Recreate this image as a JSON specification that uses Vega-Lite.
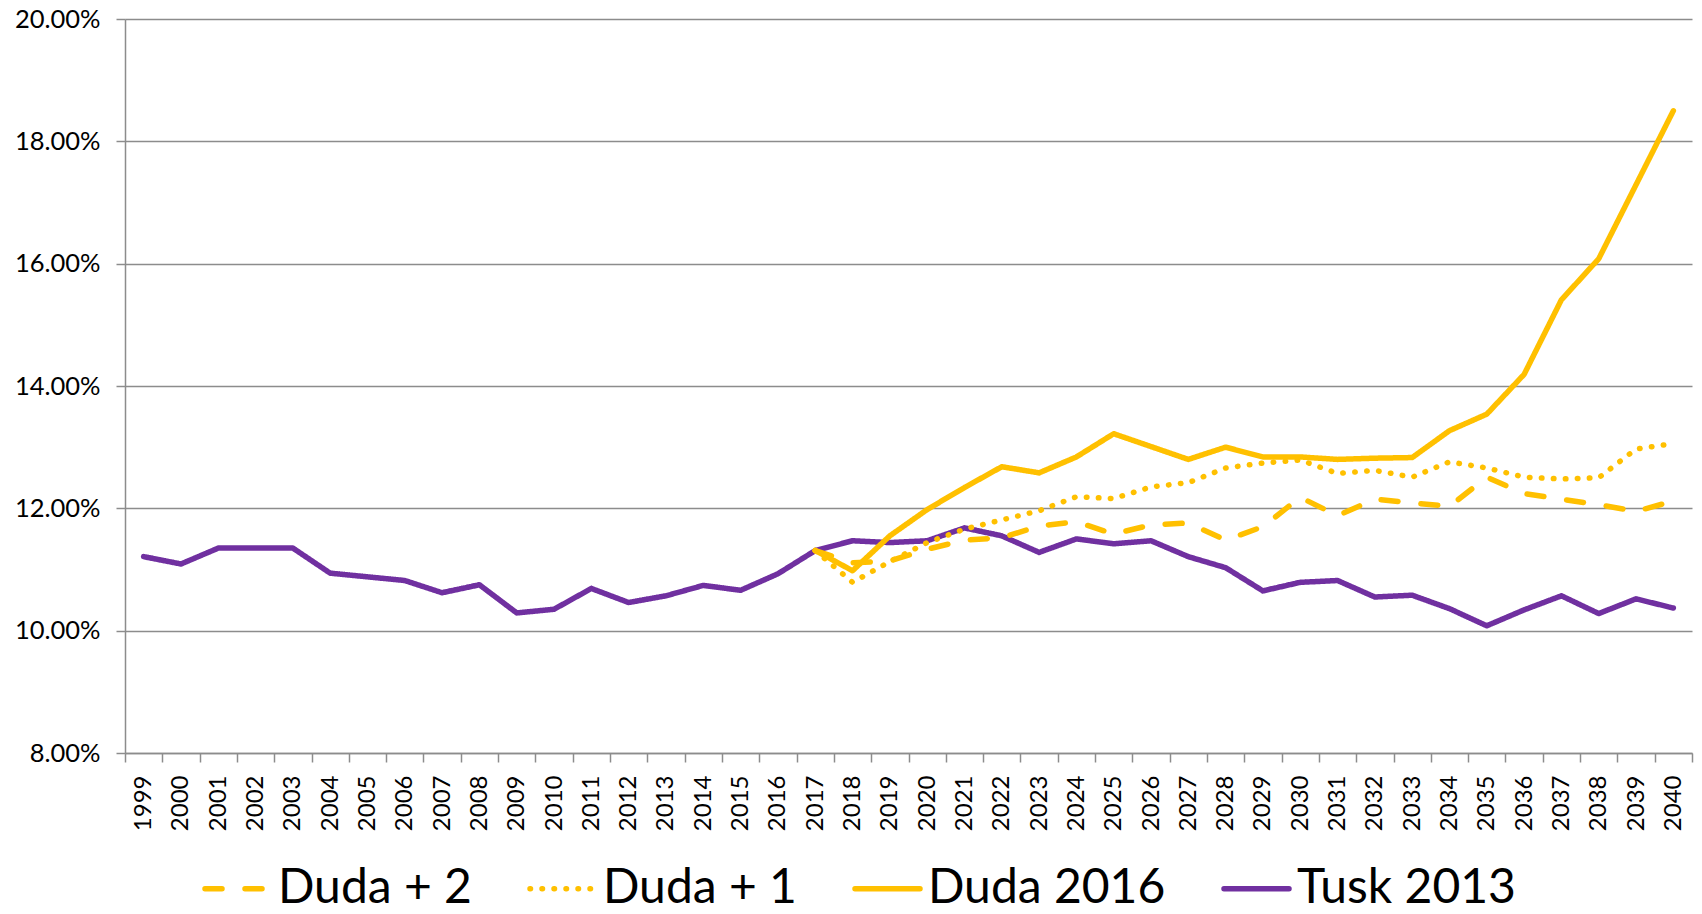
{
  "$schema": "https://vega.github.io/schema/vega-lite/v6.json",
  "autosize": "none",
  "width": 1567,
  "height": 734,
  "padding": {"left": 125, "top": 19, "right": 10, "bottom": 161},
  "background": "white",
  "config": {
    "font": "Lato",
    "view": {"stroke": null},
    "axis": {"labelFont": "Lato", "labelColor": "#000000", "domainColor": "#8c8c8c", "tickColor": "#8c8c8c", "gridColor": "#8c8c8c", "domainWidth": 1.5, "tickWidth": 1.5, "gridWidth": 1.5}
  },
  "data": {
    "values": [
      {"year": "1999", "series": "Tusk 2013", "value": 0.1121},
      {"year": "2000", "series": "Tusk 2013", "value": 0.1109},
      {"year": "2001", "series": "Tusk 2013", "value": 0.1135},
      {"year": "2002", "series": "Tusk 2013", "value": 0.1135},
      {"year": "2003", "series": "Tusk 2013", "value": 0.1135},
      {"year": "2004", "series": "Tusk 2013", "value": 0.1094},
      {"year": "2005", "series": "Tusk 2013", "value": 0.1088},
      {"year": "2006", "series": "Tusk 2013", "value": 0.1082},
      {"year": "2007", "series": "Tusk 2013", "value": 0.1062},
      {"year": "2008", "series": "Tusk 2013", "value": 0.1075},
      {"year": "2009", "series": "Tusk 2013", "value": 0.1029},
      {"year": "2010", "series": "Tusk 2013", "value": 0.1035},
      {"year": "2011", "series": "Tusk 2013", "value": 0.1069},
      {"year": "2012", "series": "Tusk 2013", "value": 0.1046},
      {"year": "2013", "series": "Tusk 2013", "value": 0.1057},
      {"year": "2014", "series": "Tusk 2013", "value": 0.1074},
      {"year": "2015", "series": "Tusk 2013", "value": 0.1066},
      {"year": "2016", "series": "Tusk 2013", "value": 0.1093},
      {"year": "2017", "series": "Tusk 2013", "value": 0.1131},
      {"year": "2018", "series": "Tusk 2013", "value": 0.1147},
      {"year": "2019", "series": "Tusk 2013", "value": 0.1144},
      {"year": "2020", "series": "Tusk 2013", "value": 0.1147},
      {"year": "2021", "series": "Tusk 2013", "value": 0.1168},
      {"year": "2022", "series": "Tusk 2013", "value": 0.1155},
      {"year": "2023", "series": "Tusk 2013", "value": 0.1128},
      {"year": "2024", "series": "Tusk 2013", "value": 0.1150},
      {"year": "2025", "series": "Tusk 2013", "value": 0.1142},
      {"year": "2026", "series": "Tusk 2013", "value": 0.1147},
      {"year": "2027", "series": "Tusk 2013", "value": 0.1121},
      {"year": "2028", "series": "Tusk 2013", "value": 0.1103},
      {"year": "2029", "series": "Tusk 2013", "value": 0.1065},
      {"year": "2030", "series": "Tusk 2013", "value": 0.1079},
      {"year": "2031", "series": "Tusk 2013", "value": 0.1082},
      {"year": "2032", "series": "Tusk 2013", "value": 0.1055},
      {"year": "2033", "series": "Tusk 2013", "value": 0.1058},
      {"year": "2034", "series": "Tusk 2013", "value": 0.1036},
      {"year": "2035", "series": "Tusk 2013", "value": 0.1008},
      {"year": "2036", "series": "Tusk 2013", "value": 0.1034},
      {"year": "2037", "series": "Tusk 2013", "value": 0.1057},
      {"year": "2038", "series": "Tusk 2013", "value": 0.1028},
      {"year": "2039", "series": "Tusk 2013", "value": 0.1052},
      {"year": "2040", "series": "Tusk 2013", "value": 0.1037},

      {"year": "2017", "series": "Duda 2016", "value": 0.1131},
      {"year": "2018", "series": "Duda 2016", "value": 0.1098},
      {"year": "2019", "series": "Duda 2016", "value": 0.1155},
      {"year": "2020", "series": "Duda 2016", "value": 0.1198},
      {"year": "2021", "series": "Duda 2016", "value": 0.1234},
      {"year": "2022", "series": "Duda 2016", "value": 0.1268},
      {"year": "2023", "series": "Duda 2016", "value": 0.1258},
      {"year": "2024", "series": "Duda 2016", "value": 0.1284},
      {"year": "2025", "series": "Duda 2016", "value": 0.1322},
      {"year": "2026", "series": "Duda 2016", "value": 0.1301},
      {"year": "2027", "series": "Duda 2016", "value": 0.1280},
      {"year": "2028", "series": "Duda 2016", "value": 0.1300},
      {"year": "2029", "series": "Duda 2016", "value": 0.1284},
      {"year": "2030", "series": "Duda 2016", "value": 0.1284},
      {"year": "2031", "series": "Duda 2016", "value": 0.1280},
      {"year": "2032", "series": "Duda 2016", "value": 0.1282},
      {"year": "2033", "series": "Duda 2016", "value": 0.1283},
      {"year": "2034", "series": "Duda 2016", "value": 0.1327},
      {"year": "2035", "series": "Duda 2016", "value": 0.1354},
      {"year": "2036", "series": "Duda 2016", "value": 0.1419},
      {"year": "2037", "series": "Duda 2016", "value": 0.1541},
      {"year": "2038", "series": "Duda 2016", "value": 0.1608},
      {"year": "2039", "series": "Duda 2016", "value": 0.1729},
      {"year": "2040", "series": "Duda 2016", "value": 0.1850},

      {"year": "2017", "series": "Duda + 1", "value": 0.1131},
      {"year": "2018", "series": "Duda + 1", "value": 0.1079},
      {"year": "2019", "series": "Duda + 1", "value": 0.1113},
      {"year": "2020", "series": "Duda + 1", "value": 0.1144},
      {"year": "2021", "series": "Duda + 1", "value": 0.1166},
      {"year": "2022", "series": "Duda + 1", "value": 0.1181},
      {"year": "2023", "series": "Duda + 1", "value": 0.1196},
      {"year": "2024", "series": "Duda + 1", "value": 0.1219},
      {"year": "2025", "series": "Duda + 1", "value": 0.1216},
      {"year": "2026", "series": "Duda + 1", "value": 0.1235},
      {"year": "2027", "series": "Duda + 1", "value": 0.1242},
      {"year": "2028", "series": "Duda + 1", "value": 0.1266},
      {"year": "2029", "series": "Duda + 1", "value": 0.1274},
      {"year": "2030", "series": "Duda + 1", "value": 0.1279},
      {"year": "2031", "series": "Duda + 1", "value": 0.1257},
      {"year": "2032", "series": "Duda + 1", "value": 0.1262},
      {"year": "2033", "series": "Duda + 1", "value": 0.1251},
      {"year": "2034", "series": "Duda + 1", "value": 0.1276},
      {"year": "2035", "series": "Duda + 1", "value": 0.1266},
      {"year": "2036", "series": "Duda + 1", "value": 0.1251},
      {"year": "2037", "series": "Duda + 1", "value": 0.1248},
      {"year": "2038", "series": "Duda + 1", "value": 0.1250},
      {"year": "2039", "series": "Duda + 1", "value": 0.1297},
      {"year": "2040", "series": "Duda + 1", "value": 0.1306},

      {"year": "2017", "series": "Duda + 2", "value": 0.1131},
      {"year": "2018", "series": "Duda + 2", "value": 0.1111},
      {"year": "2019", "series": "Duda + 2", "value": 0.1114},
      {"year": "2020", "series": "Duda + 2", "value": 0.1133},
      {"year": "2021", "series": "Duda + 2", "value": 0.1148},
      {"year": "2022", "series": "Duda + 2", "value": 0.1152},
      {"year": "2023", "series": "Duda + 2", "value": 0.1171},
      {"year": "2024", "series": "Duda + 2", "value": 0.1178},
      {"year": "2025", "series": "Duda + 2", "value": 0.1158},
      {"year": "2026", "series": "Duda + 2", "value": 0.1173},
      {"year": "2027", "series": "Duda + 2", "value": 0.1176},
      {"year": "2028", "series": "Duda + 2", "value": 0.1148},
      {"year": "2029", "series": "Duda + 2", "value": 0.1170},
      {"year": "2030", "series": "Duda + 2", "value": 0.1218},
      {"year": "2031", "series": "Duda + 2", "value": 0.1188},
      {"year": "2032", "series": "Duda + 2", "value": 0.1215},
      {"year": "2033", "series": "Duda + 2", "value": 0.1209},
      {"year": "2034", "series": "Duda + 2", "value": 0.1203},
      {"year": "2035", "series": "Duda + 2", "value": 0.1251},
      {"year": "2036", "series": "Duda + 2", "value": 0.1224},
      {"year": "2037", "series": "Duda + 2", "value": 0.1215},
      {"year": "2038", "series": "Duda + 2", "value": 0.1206},
      {"year": "2039", "series": "Duda + 2", "value": 0.1195},
      {"year": "2040", "series": "Duda + 2", "value": 0.1212}
    ]
  },
  "mark": {"type": "line", "strokeWidth": 5.5, "strokeCap": "round", "strokeJoin": "round"},
  "encoding": {
    "x": {
      "field": "year", "type": "ordinal", "title": null,
      "scale": {"type": "band", "paddingInner": 0, "paddingOuter": 0},
      "axis": {"labelAngle": -90, "labelFontSize": 24, "labelPadding": 13, "tickSize": 9, "tickBand": "extent", "grid": false, "labelBaseline": "middle", "labelAlign": "right"}
    },
    "y": {
      "field": "value", "type": "quantitative", "title": null,
      "scale": {"domain": [0.08, 0.2], "nice": false, "zero": false},
      "axis": {"format": ".2%", "values": [0.08, 0.10, 0.12, 0.14, 0.16, 0.18, 0.20], "labelFontSize": 25.5, "labelPadding": 16, "tickSize": 9, "grid": true}
    },
    "color": {
      "field": "series", "type": "nominal",
      "scale": {"domain": ["Duda + 2", "Duda + 1", "Duda 2016", "Tusk 2013"], "range": ["#FFC000", "#FFC000", "#FFC000", "#7030A0"]},
      "legend": {
        "title": null, "orient": "none", "direction": "horizontal",
        "legendX": 77, "legendY": 834,
        "symbolType": "stroke", "symbolSize": 4225, "symbolStrokeWidth": 5.5,
        "labelFontSize": 48, "labelFont": "Lato", "labelColor": "#000000",
        "labelOffset": 5, "columnPadding": 47, "padding": 0, "labelLimit": 0,
        "encode": {"symbols": {"update": {"strokeCap": {"value": "round"}}}}
      }
    },
    "strokeDash": {
      "field": "series", "type": "nominal",
      "scale": {"domain": ["Duda + 2", "Duda + 1", "Duda 2016", "Tusk 2013"], "range": [[17, 23], [0.5, 11.5], [1, 0], [1, 0]]},
      "legend": null
    },
    "order": {"field": "year"}
  }
}
